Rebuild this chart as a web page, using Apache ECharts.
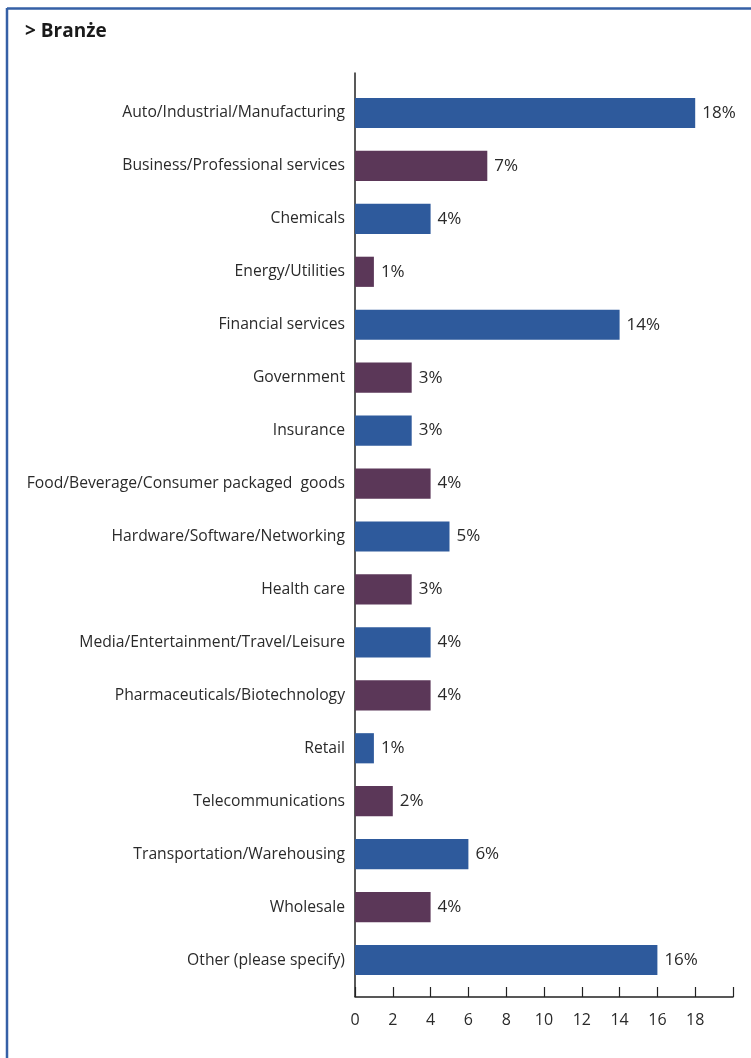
<!DOCTYPE html>
<html><head><meta charset="utf-8">
<script src="https://cdn.jsdelivr.net/npm/echarts@6/dist/echarts.min.js"></script>
<style>html,body{margin:0;padding:0;background:#fff}#c{width:751px;height:1058px}</style>
</head><body><div id="c"></div>
<script>
const title = '> Branże';
const categories = [
  'Auto/Industrial/Manufacturing',
  'Business/Professional services',
  'Chemicals',
  'Energy/Utilities',
  'Financial services',
  'Government',
  'Insurance',
  'Food/Beverage/Consumer packaged  goods',
  'Hardware/Software/Networking',
  'Health care',
  'Media/Entertainment/Travel/Leisure',
  'Pharmaceuticals/Biotechnology',
  'Retail',
  'Telecommunications',
  'Transportation/Warehousing',
  'Wholesale',
  'Other (please specify)'
];
const values = [18, 7, 4, 1, 14, 3, 3, 4, 5, 3, 4, 4, 1, 2, 6, 4, 16];
const xTicks = [0, 2, 4, 6, 8, 10, 12, 14, 16, 18, 20];
const colorA = '#2E5A9C';
const colorB = '#5B3758';

const chart = echarts.init(document.getElementById('c'));
const font = '"Open Sans", "Noto Sans", sans-serif';
chart.setOption({
  animation: false,
  backgroundColor: '#fff',
  graphic: [
    { type: 'line', shape: { x1: 7, y1: 8.5, x2: 751, y2: 8.5 }, style: { stroke: '#3560A6', lineWidth: 2.5 } },
    { type: 'line', shape: { x1: 7, y1: 8, x2: 7, y2: 1058 }, style: { stroke: '#3560A6', lineWidth: 2.5 } },
    { type: 'text', left: 25, top: 22, style: { text: title, font: 'bold 19px ' + font, fill: '#1a1a1a' } },
    { type: 'line', shape: { x1: 355, y1: 72.5, x2: 355, y2: 997 }, style: { stroke: '#222', lineWidth: 1.5 } }
  ],
  grid: { left: 355, right: 18, top: 86.5, bottom: 71.5, containLabel: false },
  xAxis: {
    type: 'value', min: 0, max: 20, interval: 2,
    offset: 10.5,
    axisLine: { show: true, lineStyle: { color: '#222', width: 1.5 } },
    axisTick: { show: true, inside: true, length: 10, lineStyle: { color: '#222', width: 1.2 } },
    splitLine: { show: false },
    axisLabel: {
      margin: 15, fontFamily: font, fontSize: 16, color: '#2a2a2a',
      formatter: v => (v === 20 ? '' : String(v))
    }
  },
  yAxis: {
    type: 'category', data: categories, inverse: true,
    axisLine: { show: false }, axisTick: { show: false },
    axisLabel: { margin: 10, fontFamily: font, fontSize: 15.7, color: '#2a2a2a', lineHeight: 20, padding: [0, 0, 5, 0] }
  },
  series: [{
    type: 'bar',
    data: values.map((v, i) => ({ value: v, itemStyle: { color: i % 2 === 0 ? colorA : colorB } })),
    barCategoryGap: '43%',
    label: {
      show: true, position: 'right', distance: 7, formatter: '{c}%',
      fontFamily: font, fontSize: 17, color: '#2a2a2a', padding: [4, 0, 0, 0]
    }
  }]
});
</script></body></html>
